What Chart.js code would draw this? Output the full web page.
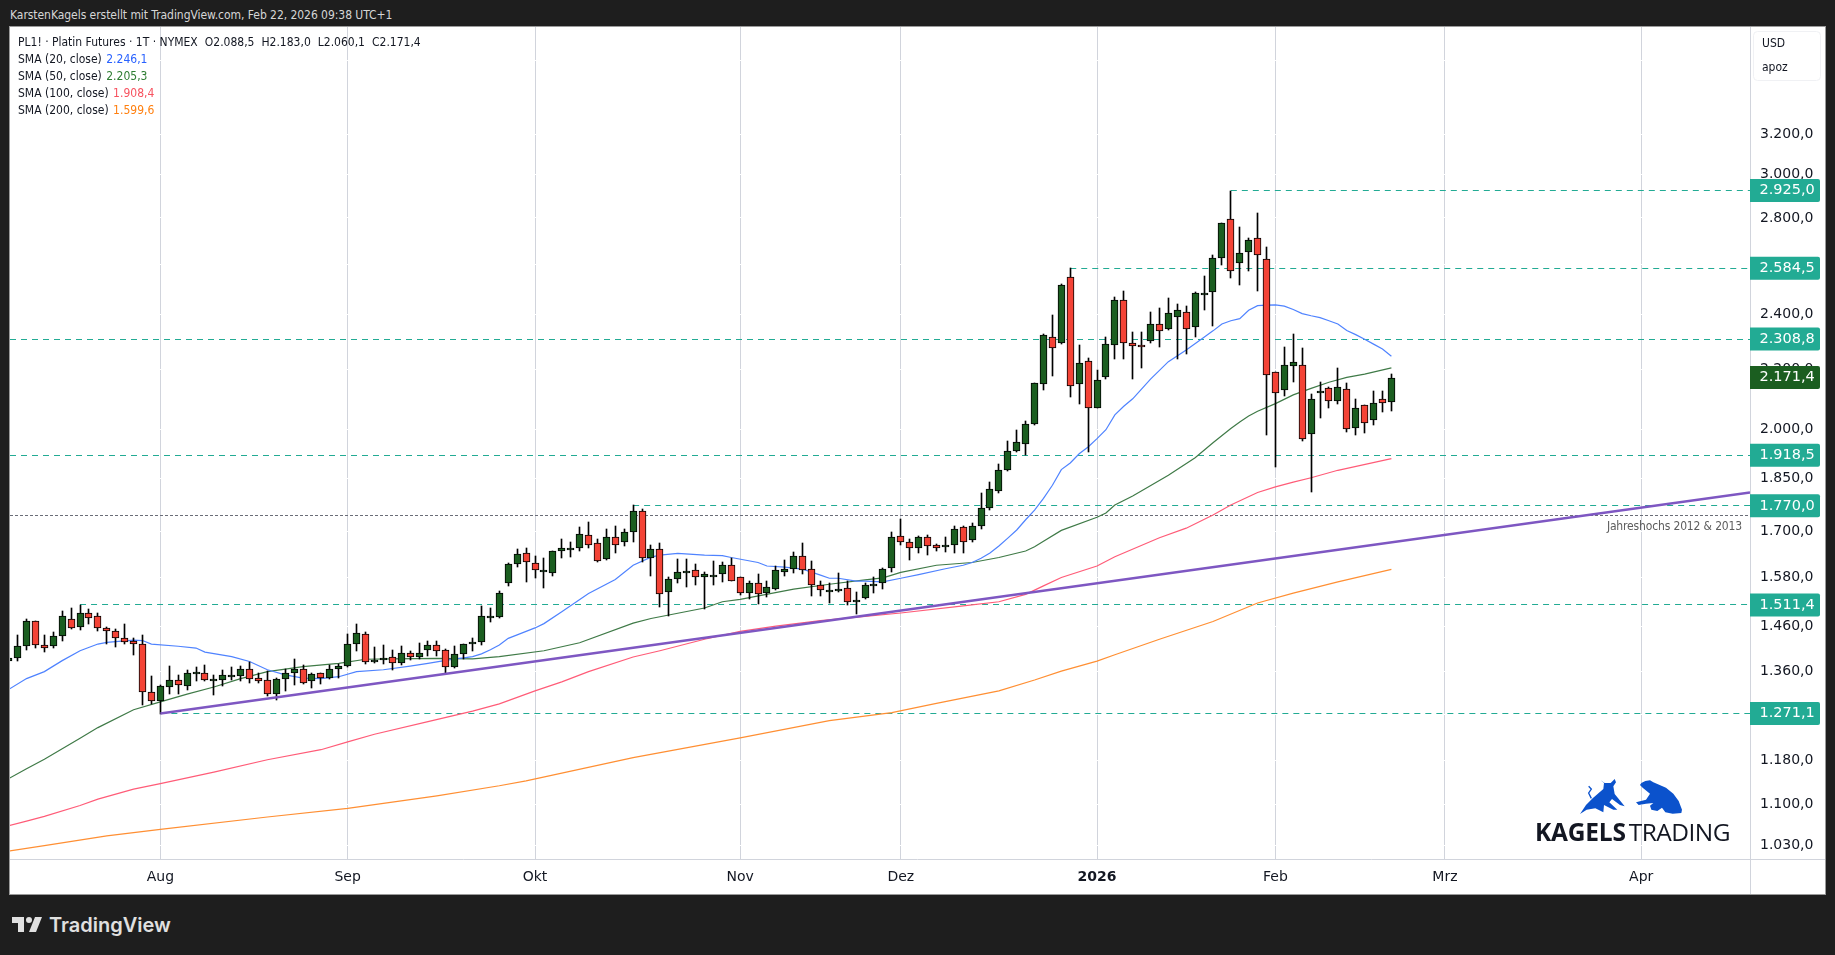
<!DOCTYPE html>
<html lang="de">
<head>
<meta charset="utf-8">
<title>PL1! Platin Futures</title>
<script src="https://cdn.jsdelivr.net/npm/chart.js@4"></script>
<style>
  html, body { margin: 0; background: #1e1e1e; }
  body { position: relative; width: 1835px; height: 955px; overflow: hidden; font-family: "DejaVu Sans Condensed", "DejaVu Sans", sans-serif; }
  #frame { position: absolute; left: 9px; top: 26px; width: 1815px; height: 867px; border: 1px solid #9a9a9a; background: #fff; }
  #price-chart { position: absolute; left: 0; top: 0; }
  #credit { position: absolute; left: 10px; top: 6px; font-size: 12px; line-height: 18px; color: #d6d6d6; white-space: nowrap; letter-spacing: -0.05px; }
  #legend { position: absolute; left: 18px; top: 34px; font-size: 12px; line-height: 17px; color: #131722; white-space: nowrap; }
  #legend span { margin-left: 1px; }
  #legend b { font-weight: normal; margin-left: 7px; }
  #brand { position: absolute; left: 49px; top: 910px; font: 600 20px Inter, sans-serif; line-height: 30px; color: #e0e0e0; }
  #tv-mark { position: absolute; left: 12px; top: 917px; }
  #logo-text { position: absolute; left: 1535px; top: 814px; font: 24.5px "Open Sans", sans-serif; line-height: 36px; color: #131722; white-space: nowrap; letter-spacing: -0.5px; }
  #logo-text b { font-weight: 700; margin-right: -3px; letter-spacing: -0.2px; }
  .beast { position: absolute; fill: #0b52cc; }
</style>
</head>
<body>
<div id="credit">KarstenKagels erstellt mit TradingView.com, Feb 22, 2026 09:38 UTC+1</div>
<div id="frame"><canvas id="price-chart" width="1815" height="867"></canvas></div>
<div id="legend">
  <div>PL1! · Platin Futures · 1T · NYMEX<b>O2.088,5</b><b>H2.183,0</b><b>L2.060,1</b><b>C2.171,4</b></div>
  <div>SMA (20, close)<span style="color:#2962ff"> 2.246,1</span></div>
  <div>SMA (50, close)<span style="color:#2e7d32"> 2.205,3</span></div>
  <div>SMA (100, close)<span style="color:#f7525f"> 1.908,4</span></div>
  <div>SMA (200, close)<span style="color:#ff7f0e"> 1.599,6</span></div>
</div>
<svg class="beast" style="left:1580px;top:779px" width="45" height="35" viewBox="0 0 135 105">
  <polygon points="0,105 18,78 38,58 70,30 72,12 62,4 74,12 92,12 104,0 108,10 100,22 104,45 134,82 120,78 96,60 88,70 112,92 100,92 72,78 70,100 46,88 20,92"/>
  <polyline points="34,58 26,42 34,30 26,22" fill="none" stroke="#0b52cc" stroke-width="4"/>
</svg>
<svg class="beast" style="left:1636px;top:780px" width="46" height="34" viewBox="0 0 138 100">
  <polygon points="0,66 30,58 42,40 20,22 12,14 16,8 28,2 42,0 52,6 90,22 112,40 128,62 138,88 136,98 110,100 88,96 78,82 64,92 46,88 42,76 52,68 30,70 8,74"/>
</svg>
<div id="logo-text"><b>KAGELS</b> TRADING</div>
<svg id="tv-mark" width="30" height="15" viewBox="2 6 30 15" fill="#e0e0e0"><path d="M14 6H2v6h6v9h6V6Zm12 15h-7l6-15h7l-6 15Zm-7-9a3 3 0 1 0 0-6 3 3 0 0 0 0 6Z"/></svg>
<div id="brand">TradingView</div>

<script>
const opens = [1383,1388,1415,1472,1417,1415,1438,1479,1458,1493,
  1484,1456,1449,1433,1426,1420,1316,1296,1327,1342,
  1329,1357,1357,1342,1340,1351,1349,1364,1346,1340,
  1312,1344,1355,1364,1338,1355,1346,1364,1371,1420,
  1442,1379,1384,1390,1377,1399,1392,1406,1417,1406,
  1368,1397,1420,1424,1482,1483,1566,1612,1641,1615,
  1598,1589,1646,1655,1656,1689,1667,1625,1683,1670,
  1697,1754,1630,1651,1542,1576,1595,1597,1581,1585,
  1587,1610,1579,1540,1564,1540,1549,1594,1600,1633,
  1600,1559,1547,1549,1552,1518,1527,1561,1564,1602,
  1686,1670,1656,1683,1664,1662,1664,1710,1675,1713,
  1765,1813,1875,1933,1952,2015,2148,2318,2293,2547,
  2148,2228,2070,2172,2286,2455,2293,2286,2300,2364,
  2345,2390,2409,2352,2483,2487,2629,2794,2608,2651,
  2714,2621,2189,2127,2210,2214,1986,2117,2134,2090,
  2131,2002,2077,2028,2097,2088.5];
const highs = [1392,1440,1477,1474,1440,1448,1496,1503,1510,1501,
  1491,1458,1454,1467,1433,1440,1349,1331,1371,1351,
  1362,1368,1373,1351,1362,1368,1371,1379,1355,1360,
  1346,1364,1386,1373,1355,1357,1373,1375,1442,1465,
  1447,1413,1417,1406,1415,1404,1422,1426,1426,1408,
  1415,1421,1433,1508,1503,1546,1615,1651,1654,1633,
  1628,1648,1678,1672,1710,1726,1680,1707,1713,1705,
  1771,1762,1664,1667,1581,1625,1625,1612,1594,1621,
  1618,1630,1581,1569,1587,1569,1607,1624,1644,1667,
  1620,1571,1566,1591,1571,1542,1564,1579,1602,1697,
  1734,1678,1686,1689,1666,1683,1713,1713,1723,1806,
  1838,1891,1961,1996,2025,2152,2326,2397,2519,2584.5,
  2286,2239,2196,2318,2467,2491,2333,2333,2409,2424,
  2463,2443,2432,2487,2551,2638,2777,2925,2758,2714,
  2820,2672,2190,2279,2326,2275,2114,2155,2138,2203,
  2151,2100,2080,2124,2124,2183];
const lows = [1380,1383,1407,1412,1403,1412,1428,1454,1452,1466,
  1451,1420,1414,1420,1396,1289,1290,1271,1311,1311,
  1319,1338,1338,1309,1329,1340,1339,1334,1335,1308,
  1299,1317,1330,1333,1325,1332,1344,1345,1368,1404,
  1375,1377,1375,1363,1373,1384,1387,1393,1393,1353,
  1366,1386,1404,1419,1471,1481,1558,1605,1568,1578,
  1553,1583,1630,1632,1648,1654,1618,1623,1642,1661,
  1671,1619,1582,1507,1484,1566,1556,1561,1502,1559,
  1568,1570,1535,1525,1514,1530,1548,1583,1589,1587,
  1532,1534,1517,1542,1510,1489,1526,1541,1549,1593,
  1663,1624,1641,1636,1646,1645,1641,1642,1670,1705,
  1759,1807,1871,1927,1918,2014,2127,2178,2292,2106,
  2082,1929,2069,2165,2238,2238,2167,2205,2293,2281,
  2344,2238,2256,2317,2419,2359,2597,2544,2516,2575,
  2493,1981,1884,2109,2157,1963,1808,2037,2069,2082,
  1991,1981,1988,2014,2056,2060];
const closes = [1388,1415,1472,1417,1412,1438,1484,1456,1493,1481,
  1456,1449,1433,1424,1420,1316,1296,1329,1342,1331,
  1355,1358,1340,1343,1351,1352,1364,1344,1338,1312,
  1344,1357,1364,1335,1353,1346,1364,1371,1420,1445,
  1381,1384,1388,1377,1399,1392,1401,1417,1404,1368,
  1397,1420,1424,1484,1484,1541,1612,1638,1618,1597,
  1599,1646,1656,1656,1691,1662,1620,1683,1664,1697,
  1754,1630,1651,1537,1576,1594,1596,1581,1587,1586,
  1610,1571,1540,1564,1537,1554,1597,1600,1633,1597,
  1559,1547,1548,1550,1518,1523,1559,1562,1600,1683,
  1672,1654,1683,1659,1654,1663,1707,1672,1713,1765,
  1817,1875,1930,1958,2015,2151,2322,2275,2515,2141,
  2221,2070,2162,2289,2455,2293,2282,2279,2364,2337,
  2405,2417,2345,2483,2484,2629,2776,2575,2646,2705,
  2638,2179,2120,2214,2225,1970,2097,2124,2090,2138,
  1999,2067,2021,2086,2086,2171.4];

// SMA readings, bar number and price at each bend of the line
const sma20Bars = [0,2,4,6,8,10,11,14,15,16,19,21,22,25,27,29,31,33,35,37,39,42,45,47,50,51,52,53,54,55,56,57,58,59,60,62,65,68,70,72,73,75,78,80,81,84,85,87,89,91,92,93,95,96,98,100,102,105,107,108,109,110,111,112,113,114,115,116,117,118,119,120,121,122,123,124,125,126,128,130,132,134,135,136,137,138,139,140,141,142,143,144,145,146,147,148,149,150,151,152,153,154,155];
const sma20Vals = [1321,1344,1359,1383,1405,1420,1424,1429,1428,1420,1415,1411,1402,1392,1381,1363,1352,1345,1344,1348,1359,1363,1371,1377,1387,1389,1392,1398,1407,1418,1433,1441,1449,1457,1467,1495,1539,1574,1610,1631,1636,1641,1636,1635,1630,1617,1608,1605,1600,1585,1577,1577,1570,1570,1568,1577,1586,1601,1610,1617,1628,1642,1660,1681,1703,1731,1758,1791,1829,1875,1895,1923,1944,1970,1998,2046,2074,2099,2166,2227,2269,2315,2339,2365,2377,2385,2417,2435,2437,2438,2433,2420,2404,2396,2389,2377,2365,2340,2325,2308,2290,2272,2246.1];
const sma50Bars = [0,2,4,8,10,14,17,20,23,26,29,33,37,40,43,48,52,55,60,64,70,72,78,80,82,88,92,96,98,100,104,108,111,114,115,116,118,122,123,124,126,130,133,135,137,138,139,140,142,144,146,148,150,152,155];
const sma50Vals = [1146,1164,1182,1222,1243,1279,1295,1311,1326,1344,1359,1370,1377,1386,1387,1388,1387,1392,1405,1423,1468,1479,1504,1519,1525,1550,1562,1573,1578,1592,1610,1617,1630,1647,1658,1673,1702,1738,1750,1772,1798,1858,1911,1957,2002,2023,2042,2058,2083,2112,2134,2155,2172,2183,2205.3];
const sma100Bars = [0,2,4,8,10,14,17,23,29,35,38,41,47,52,55,59,62,65,70,73,78,82,86,91,96,100,107,111,114,116,118,122,124,129,132,135,137,140,142,144,146,149,155];
const sma100Vals = [1063,1071,1079,1098,1109,1127,1137,1158,1181,1200,1215,1230,1255,1276,1291,1318,1337,1359,1391,1405,1431,1449,1461,1474,1484,1492,1509,1519,1537,1558,1579,1608,1632,1682,1708,1744,1772,1808,1824,1838,1851,1873,1908.4];
const sma200Bars = [0,4,11,17,29,38,48,55,58,70,82,92,99,104,111,115,118,122,124,129,135,140,144,149,155];
const sma200Vals = [1021,1030,1046,1057,1078,1093,1115,1133,1142,1185,1223,1257,1273,1292,1318,1341,1360,1382,1396,1431,1472,1516,1540,1568,1599.6];

const xMin = 0.146, xMax = 195.2;
const trendBars = [17, xMax];
const trendVals = [1271.1, 1808];

const levelVals = [2925, 2584.5, 2308.8, 1918.5, 1770, 1511.4, 1271.1];
const levelStarts = [137, 119, xMin, xMin, 70, 8, 17];
const yearHigh = 1742;
const lastClose = 2171.4;

const yTicks = [1030,1100,1180,1270,1360,1460,1580,1700,1850,2000,2200,2400,2600,2800,3000,3200,3600];
const monthBars = [17,38,59,82,100,122,142,161,183];
const monthLabels = ["Aug","Sep","Okt","Nov","Dez","2026","Feb","Mrz","Apr"];

const GREEN = "#1b5e20", RED = "#f44336", TEAL = "#22ab94", INK = "#131722", GRID = "#d1d4dc";
const fmt = v => v.toLocaleString("de-DE", { minimumFractionDigits: 1, maximumFractionDigits: 1 });
const barIdx = opens.map((_, i) => i);

function smaSet(bars, vals, color, order) {
  return {
    type: "line", order, borderColor: color, borderWidth: 1.2, pointRadius: 0, tension: 0,
    data: bars.map((b, i) => ({ x: b, y: vals[i] }))
  };
}

const datasets = [
  {
    type: "line", order: 0, borderColor: "#7e57c2", borderWidth: 2.5, pointRadius: 0,
    data: trendBars.map((b, i) => ({ x: b, y: trendVals[i] }))
  },
  {
    type: "bar", order: 1, barThickness: 7, grouped: false, borderWidth: 1, borderColor: "#000",
    borderSkipped: false,
    backgroundColor: ctx => closes[ctx.dataIndex] >= opens[ctx.dataIndex] ? GREEN : RED,
    data: barIdx.map(i => ({ x: i, y: [opens[i], closes[i]] }))
  },
  {
    type: "bar", order: 2, barThickness: 1, grouped: false, borderWidth: 0, backgroundColor: "#000",
    data: barIdx.map(i => ({ x: i, y: [lows[i], highs[i]] }))
  },
  smaSet(sma20Bars, sma20Vals, "#4f83ff", 3),
  smaSet(sma50Bars, sma50Vals, "#3f7a47", 4),
  smaSet(sma100Bars, sma100Vals, "#ff5c78", 5),
  smaSet(sma200Bars, sma200Vals, "#ff8f33", 6),
  ...levelVals.map((v, i) => ({
    type: "line", order: 7, snap: true, borderColor: TEAL, borderWidth: 1, borderDash: [6, 5], pointRadius: 0,
    data: [{ x: levelStarts[i], y: v }, { x: xMax, y: v }]
  })),
  {
    type: "line", order: 8, snap: true, borderColor: "#6a6d78", borderWidth: 1, borderDash: [3, 2], pointRadius: 0,
    data: [{ x: xMin, y: yearHigh }, { x: xMax, y: yearHigh }]
  }
];

// sharp candles: snap to whole pixels after the scales have placed them
const snapPlugin = {
  id: "snap",
  afterDatasetsUpdate(chart) {
    chart.data.datasets.forEach((ds, i) => {
      const meta = chart.getDatasetMeta(i);
      if (ds.type === "bar") {
        meta.data.forEach(el => {
          el.x = Math.round(el.x - 0.5) + 0.5;
          el.y = Math.round(el.y);
          el.base = Math.round(el.base);
          if (Math.abs(el.base - el.y) < 2) el.base = el.y + 2;
        });
      } else if (ds.snap) {
        meta.data.forEach(pt => { pt.y = Math.round(pt.y - 0.5) + 0.5; });
      }
    });
  }
};

function drawTag(ctx, x, y, text, color) {
  ctx.fillStyle = color;
  ctx.beginPath();
  ctx.roundRect(x, y - 11.5, 70, 23, [0, 2, 2, 0]);
  ctx.fill();
  ctx.fillStyle = "#fff";
  ctx.font = "14.5px 'DejaVu Sans'";
  ctx.textAlign = "left";
  ctx.textBaseline = "middle";
  ctx.fillText(text, x + 9.5, y);
}

const overlayPlugin = {
  id: "overlay",
  afterDraw(c) {
    const { ctx, chartArea: a, scales: { y } } = c;
    ctx.save();
    // axis separators run on through the axis strips
    ctx.strokeStyle = GRID;
    ctx.lineWidth = 1;
    ctx.beginPath();
    ctx.moveTo(a.right + 0.5, 0);
    ctx.lineTo(a.right + 0.5, c.height);
    ctx.moveTo(0, a.bottom + 0.5);
    ctx.lineTo(c.width, a.bottom + 0.5);
    ctx.stroke();

    levelVals.forEach(v => drawTag(ctx, a.right, y.getPixelForValue(v), fmt(v), TEAL));
    drawTag(ctx, a.right, y.getPixelForValue(lastClose), fmt(lastClose), GREEN);

    ctx.fillStyle = "#5d5d5d";
    ctx.font = "12px 'DejaVu Sans Condensed', 'DejaVu Sans'";
    ctx.letterSpacing = "-0.15px";
    ctx.textAlign = "right";
    ctx.textBaseline = "middle";
    ctx.fillText("Jahreshochs 2012 & 2013", a.right - 8, y.getPixelForValue(yearHigh) + 11);
    ctx.letterSpacing = "0px";

    // currency / session box
    ctx.fillStyle = "#fff";
    ctx.strokeStyle = "#f0f1f4";
    ctx.beginPath();
    ctx.roundRect(a.right + 3.5, 4.5, 67, 49, 4);
    ctx.fill();
    ctx.stroke();
    ctx.fillStyle = INK;
    ctx.textAlign = "left";
    ctx.fillText("USD", a.right + 12, 17);
    ctx.fillText("apoz", a.right + 12, 41);
    ctx.restore();
  }
};

new Chart(document.getElementById("price-chart").getContext("2d"), {
  type: "bar",
  data: { datasets },
  plugins: [snapPlugin, overlayPlugin],
  options: {
    responsive: false,
    devicePixelRatio: 1,
    animation: false,
    layout: { padding: 0 },
    plugins: { legend: { display: false }, tooltip: { enabled: false } },
    scales: {
      x: {
        type: "linear", offset: false, bounds: "data", min: xMin, max: xMax,
        grid: { offset: false, color: GRID, lineWidth: 1, drawTicks: false, z: -2 },
        border: { display: false },
        afterBuildTicks: s => { s.ticks = monthBars.map(value => ({ value })); },
        afterFit: s => { s.height = 35; s.paddingLeft = 0; s.paddingRight = 0; },
        ticks: {
          autoSkip: false, maxRotation: 0, padding: 10, color: INK,
          font: ctx => ({ family: "'DejaVu Sans'", size: 14, weight: monthLabels[ctx.index] === "2026" ? "bold" : "normal" }),
          callback: (v, i) => monthLabels[i]
        }
      },
      y: {
        type: "logarithmic", position: "right", bounds: "data", min: 1008.2, max: 3795.8,
        grid: { color: "#fff", lineWidth: 1, drawTicks: false, z: -1 },
        border: { display: false },
        afterBuildTicks: s => { s.ticks = yTicks.map(value => ({ value })); },
        afterFit: s => { s.width = 75; s.paddingTop = 0; s.paddingBottom = 0; },
        ticks: {
          autoSkip: false, padding: 10, color: INK,
          font: { family: "'DejaVu Sans'", size: 14 },
          callback: v => fmt(v)
        }
      }
    }
  }
});
</script>
</body>
</html>
